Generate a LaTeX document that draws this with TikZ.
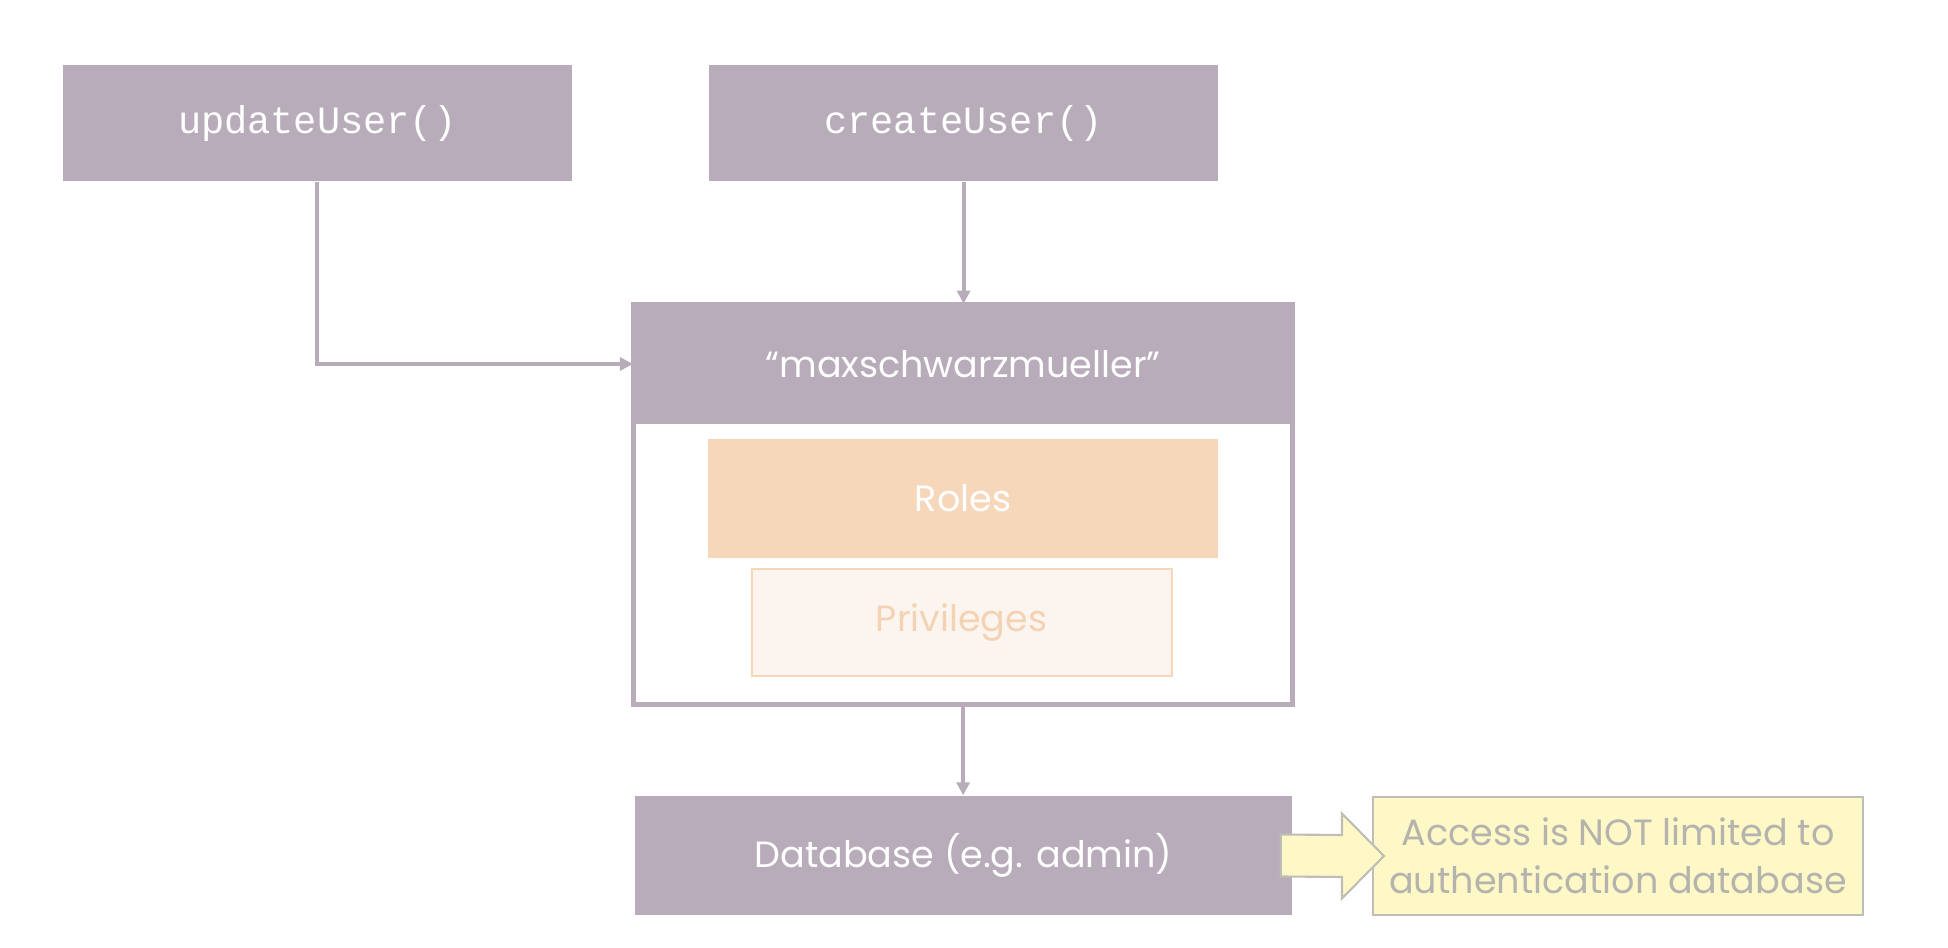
\documentclass[tikz,border=0pt]{standalone}
\usepackage{fontspec}
\setmainfont{Poppins}
\setmonofont{Liberation Mono}
\usepackage{xcolor}
\usepackage{tikz}
\usetikzlibrary{shapes,positioning,calc,arrows.meta}

\definecolor{boxgray}{HTML}{B8ABBA}
\definecolor{rolefill}{HTML}{F6D7B9}
\definecolor{privfill}{HTML}{FCF5EF}
\definecolor{privtext}{HTML}{F3D3B3}
\definecolor{notefill}{HTML}{FEF8C6}
\definecolor{noteline}{HTML}{BEBDB6}
\definecolor{notetext}{HTML}{B4B3AE}

\begin{document}
\begin{tikzpicture}[
    scale=1.0,
    funcbox/.style={
        fill=boxgray,
        draw=none,
        text=white,
        font=\ttfamily\fontsize{11}{13}\selectfont,
        minimum width=5.09cm,
        minimum height=1.163cm,
        inner sep=0pt
    },
    userbox/.style={fill=boxgray, draw=none, text=white, font=\fontsize{10.4}{13}\selectfont, inner sep=0pt},
    frame/.style={draw=boxgray, line width=1.4pt, fill=white, inner sep=0pt},
    rolebox/.style={fill=rolefill, draw=none, text=white, font=\fontsize{10.4}{13}\selectfont, inner sep=0pt},
    privbox/.style={fill=privfill, draw=rolefill, line width=0.6pt, text=privtext, font=\fontsize{10.4}{13}\selectfont, inner sep=0pt},
    notebox/.style={
        fill=notefill,
        draw=noteline,
        line width=0.6pt,
        text=notetext,
        align=center,
        font=\fontsize{10.4}{13.6}\selectfont,
        inner sep=0pt
    },
    bigarrow/.style={fill=notefill, draw=noteline, line width=0.6pt, line join=miter},
    connector/.style={-{Triangle[length=1.3mm, width=1.3mm]}, draw=boxgray, line width=1.1pt}
]
    % Page size
    \useasboundingbox[fill=white] (0,0) rectangle (19.48,-9.48);

    % Top row: the two functions
    \node[funcbox] (upd) at (3.172,-1.233) {updateUser()};
    \node[funcbox] (crt) at (9.636,-1.233) {createUser()};

    % User with roles and privileges
    \node[frame, minimum width=6.59cm, minimum height=4.00cm] (user) at (9.631,-5.042) {};
    \node[userbox, minimum width=6.59cm, minimum height=1.193cm] (name) at (9.631,-3.640) {“maxschwarzmueller”};
    \node[rolebox, minimum width=5.10cm, minimum height=1.193cm] (roles) at (9.631,-4.982) {Roles};
    \node[privbox, minimum width=4.20cm, minimum height=1.074cm] (priv) at (9.616,-6.225) {Privileges};

    % Database and note
    \node[userbox, minimum width=6.57cm, minimum height=1.19cm] (db) at (9.635,-8.555) {Database (e.g. admin)};
    \node[notebox, minimum width=4.90cm, minimum height=1.18cm] (note) at (16.18,-8.56) {Access is NOT limited to\\authentication database};

    % Block arrow from database to note
    \coordinate (tail) at ([xshift=-0.12cm]db.east);
    \coordinate (tip) at ([xshift=0.12cm]note.west);
    \draw[bigarrow] ($(tail)+(0,0.21)$) -- ($(tip)+(-0.42,0.21)$) -- ($(tip)+(-0.42,0.425)$) -- (tip)
        -- ($(tip)+(-0.42,-0.425)$) -- ($(tip)+(-0.42,-0.21)$) -- ($(tail)+(0,-0.21)$) -- cycle;

    % Connectors
    \draw[connector] (upd.south) |- (name.west);
    \draw[connector] (crt.south) -- (crt.south |- name.north);
    \draw[connector] (user.south) -- (user.south |- db.north);
\end{tikzpicture}
\end{document}
